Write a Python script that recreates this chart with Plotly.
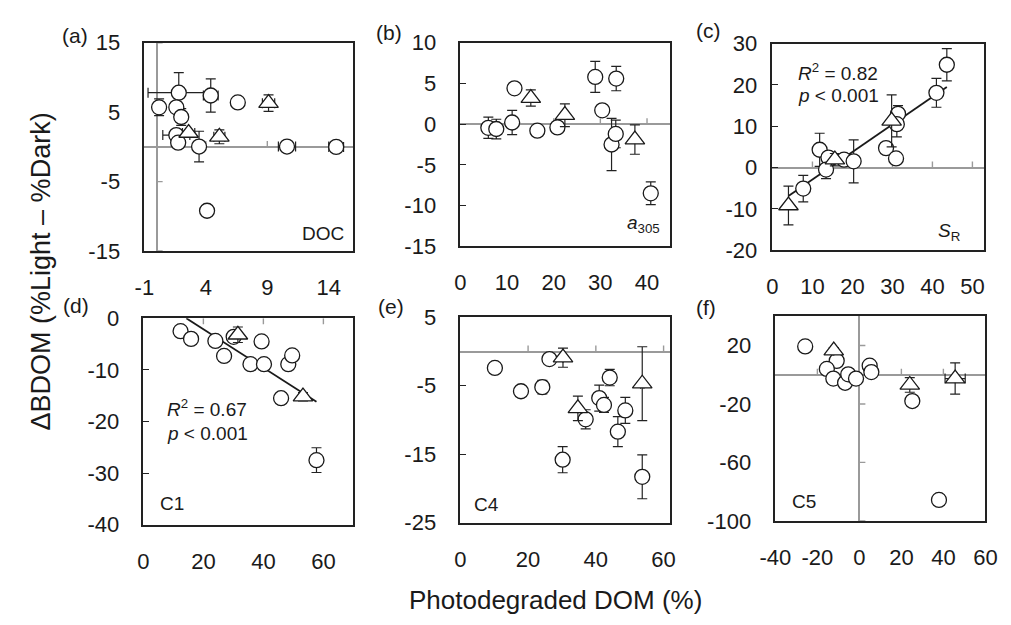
import plotly.graph_objects as go

W, H = 1011, 625
FONT = "Liberation Sans, Arial, sans-serif"
INK = "#1a1a1a"
FRAME = "#222222"
GRAY = "#9a9a9a"

# ---------------- data ----------------
# (a) DOC
a_cx = [0.2, 1.8, 4.4, 6.6, 1.6, 2.0, 1.6, 1.75, 3.45, 4.1, 10.6, 14.6]
a_cy = [5.7, 7.8, 7.4, 6.4, 5.7, 4.3, 1.7, 0.6, 0.05, -9.2, 0.05, 0.0]
a_cey = [1.2, 2.9, 2.4, 0, 0, 1.2, 0, 0, 2.2, 0, 0, 0]
a_cex = [0, 2.5, 0.6, 0, 0, 0, 1.1, 0, 0, 0.4, 0.7, 0.6]
a_tx = [2.6, 5.1, 9.1]
a_ty = [2.0, 1.45, 6.3]
a_tey = [0, 1.0, 1.2]
a_tex = [0.5, 0.45, 0.5]

# (b) a305
b_cx = [6.0, 7.7, 11.1, 11.6, 16.5, 20.8, 28.9, 30.4, 33.4, 32.4, 33.3, 40.8]
b_cy = [-0.45, -0.6, 0.2, 4.4, -0.8, -0.4, 5.8, 1.7, 5.6, -2.5, -1.2, -8.5]
b_cey = [1.3, 1.2, 1.5, 0, 0, 0, 1.9, 0, 1.5, 3.2, 1.7, 1.4]
b_tx = [15.1, 22.4, 37.4]
b_ty = [3.2, 1.1, -1.9]
b_tey = [1.0, 1.4, 1.8]

# (c) SR
c_cx = [43.6, 41.0, 31.4, 31.1, 28.4, 30.9, 11.8, 14.0, 13.4, 17.9, 20.3, 7.7]
c_cy = [24.9, 18.1, 13.0, 10.5, 4.7, 2.2, 4.3, 2.4, -0.5, 1.9, 1.5, -5.1]
c_cey = [3.9, 3.5, 2.0, 3.1, 0, 0, 4.0, 0, 2.2, 0, 5.2, 3.2]
c_tx = [4.0, 15.6, 29.8]
c_ty = [-9.2, 1.9, 11.3]
c_tey = [4.7, 1.5, 6.3]
c_fit_x = [4.0, 43.6]
c_fit_y = [-6.9, 19.5]

# (d) C1
d_cx = [12.4, 15.9, 24.0, 26.9, 30.1, 39.4, 35.7, 40.2, 48.3, 49.6, 45.9, 57.7]
d_cy = [-2.5, -4.0, -4.4, -7.3, -3.6, -4.5, -8.9, -8.9, -8.9, -7.2, -15.5, -27.5]
d_cey = [0, 0, 0, 0, 0, 0, 0, 0, 0, 0, 0, 2.4]
d_tx = [31.5, 53.2]
d_ty = [-3.2, -15.2]
d_tey = [1.5, 0.8]
d_fit_x = [14.3, 57.7]
d_fit_y = [0.0, -16.2]

# (e) C4
e_cx = [10.2, 17.9, 24.2, 26.3, 30.2, 37.0, 41.0, 42.4, 44.1, 46.5, 48.7, 53.7]
e_cy = [-2.4, -5.8, -5.2, -1.1, -15.8, -9.9, -6.8, -7.8, -3.8, -11.7, -8.6, -18.3]
e_cey = [0, 0, 1.0, 0.6, 1.9, 1.4, 1.9, 1.1, 1.2, 2.2, 1.9, 3.2]
e_tx = [30.3, 34.7, 53.7]
e_ty = [-0.9, -8.3, -4.7]
e_tey = [1.4, 1.8, 5.4]
e_tex = [0, 0, 0.5]

# (f) C5
f_cx = [-25.8, -10.8, -15.5, -12.4, -6.8, -5.3, -1.6, 4.9, 5.7, 25.2, 37.9]
f_cy = [19.4, 9.5, 4.0, -2.6, -5.5, 0.3, -2.6, 6.2, 1.8, -18.0, -85.7]
f_cey = [0, 0, 0, 0, 0, 0, 0, 0, 0, 0, 0]
f_tx = [-12.2, 24.0, 45.6]
f_ty = [16.5, -7.0, -2.6]
f_tey = [2.0, 5.0, 10.7]
f_tex = [0, 0, 4.8]

# axis ranges and tick values
a_xr, a_xt, a_yr, a_yt = [-1, 16], [-1, 4, 9, 14], [-15, 15], [-15, -5, 5, 15]
b_xr, b_xt, b_yr, b_yt = [0, 45], [0, 10, 20, 30, 40], [-15, 10], [-15, -10, -5, 0, 5, 10]
c_xr, c_xt, c_yr, c_yt = [0, 53], [0, 10, 20, 30, 40, 50], [-20, 30], [-20, -10, 0, 10, 20, 30]
d_xr, d_xt, d_yr, d_yt = [0, 70], [0, 20, 40, 60], [-40, 0], [-40, -30, -20, -10, 0]
e_xr, e_xt, e_yr, e_yt = [0, 62], [0, 20, 40, 60], [-25, 5], [-25, -15, -5, 5]
f_xr, f_xt, f_yr, f_yt = [-40, 60], [-40, -20, 0, 20, 40, 60], [-100, 40], [-100, -60, -20, 20]


def px(x):
    return x / W


def py(y):
    return 1 - y / H


# plot-area boxes in pixels: (left, right, top, bottom)
boxes = {
    "a": (132, 347, 32, 249),
    "b": (457, 673, 32, 244),
    "c": (778, 996, 33, 248),
    "d": (131, 347, 319, 534),
    "e": (457, 673, 318, 532),
    "f": (781, 997, 317, 530),
}

panels = [
    # key, cx, cy, cey, cex, tx, ty, tey, tex, xr, xt, yr, yt, y ticks on frame, fit
    ("a", a_cx, a_cy, a_cey, a_cex, a_tx, a_ty, a_tey, a_tex, a_xr, a_xt, a_yr, a_yt, False, None),
    ("b", b_cx, b_cy, b_cey, None, b_tx, b_ty, b_tey, None, b_xr, b_xt, b_yr, b_yt, True, None),
    ("c", c_cx, c_cy, c_cey, None, c_tx, c_ty, c_tey, None, c_xr, c_xt, c_yr, c_yt, True, (c_fit_x, c_fit_y)),
    ("d", d_cx, d_cy, d_cey, None, d_tx, d_ty, d_tey, None, d_xr, d_xt, d_yr, d_yt, True, (d_fit_x, d_fit_y)),
    ("e", e_cx, e_cy, e_cey, None, e_tx, e_ty, e_tey, e_tex, e_xr, e_xt, e_yr, e_yt, True, None),
    ("f", f_cx, f_cy, f_cey, None, f_tx, f_ty, f_tey, f_tex, f_xr, f_xt, f_yr, f_yt, False, None),
]

fig = go.Figure()
layout = {}
shapes = []


def err(vals):
    if vals is None:
        return None
    return dict(type="data", array=vals, visible=True, color=FRAME, thickness=1.2, width=5)


for i, (k, cx, cy, cey, cex, tx, ty, tey, tex, xr, xt, yr, yt, frame_ticks, fit) in enumerate(panels):
    n = "" if i == 0 else str(i + 1)
    xa, ya = "x" + n, "y" + n
    L, R, T, B = boxes[k]
    common = dict(
        showline=True, mirror=True, linecolor=FRAME, linewidth=1.6,
        showgrid=False, zeroline=True, zerolinecolor=GRAY, zerolinewidth=1.5,
        tickfont=dict(family=FONT, size=22, color=INK), fixedrange=True,
        tickmode="array",
    )
    layout["xaxis" + n] = dict(
        common, domain=[px(L), px(R)], range=xr, tickvals=xt,
        ticktext=[str(v) for v in xt], ticks="",
        anchor=ya, ticklabelstandoff=16,
    )
    layout["yaxis" + n] = dict(
        common, domain=[py(B), py(T)], range=yr, tickvals=yt,
        ticktext=[str(v) for v in yt],
        ticks="inside" if frame_ticks else "", ticklen=6, tickcolor=FRAME, tickwidth=1.4,
        anchor=xa, ticklabelstandoff=(9 if k == "c" else 18),
    )

    if fit is not None:
        fig.add_trace(go.Scatter(x=fit[0], y=fit[1], xaxis=xa, yaxis=ya, mode="lines",
                                 line=dict(color=INK, width=1.8), hoverinfo="skip"))
    fig.add_trace(go.Scatter(
        x=cx, y=cy, xaxis=xa, yaxis=ya, mode="markers",
        marker=dict(symbol="circle", size=15, color="white", line=dict(color=INK, width=1.3)),
        error_y=err(cey), error_x=err(cex),
    ))
    fig.add_trace(go.Scatter(
        x=tx, y=ty, xaxis=xa, yaxis=ya, mode="markers",
        marker=dict(symbol="triangle-up", size=17, color="white", line=dict(color=INK, width=1.3)),
        error_y=err(tey), error_x=err(tex),
    ))

    # tick marks drawn on the axes that cross at zero
    x_on_zero = [v for v in xt if xr[0] < v < xr[1] and v != 0]
    up = yr[1] > 0
    if yr[0] <= 0 <= yr[1]:
        for v in x_on_zero:
            shapes.append(dict(type="line", xref=xa, yref=ya, ysizemode="pixel", yanchor=0,
                               x0=v, x1=v, y0=0, y1=(6 if up else -6), layer="below",
                               line=dict(color=GRAY, width=1.4)))
    if xr[0] < 0 < xr[1]:
        for v in yt:
            if v != 0:
                shapes.append(dict(type="line", xref=xa, yref=ya, xsizemode="pixel", xanchor=0,
                                   y0=v, y1=v, x0=0, x1=6, layer="below",
                                   line=dict(color=GRAY, width=1.4)))

ann = []


def text(s, x, y, xanchor="center", size=20, **kw):
    ann.append(dict(text=s, x=px(x), y=py(y), xref="paper", yref="paper", showarrow=False,
                    xanchor=xanchor, yanchor="middle", font=dict(family=FONT, size=size, color=INK), **kw))


# panel letters
for lab, x, y in [("(a)", 61, 24), ("(b)", 384, 21), ("(c)", 712, 19),
                  ("(d)", 62, 306), ("(e)", 386, 307), ("(f)", 710, 308)]:
    text(lab, x, y, size=21)

# variable names inside panels
text("DOC", 339, 231, xanchor="right", size=19)
text("<i>a</i><sub>305</sub>", 664, 221, xanchor="right", size=19)
text("<i>S</i><sub>R</sub>", 973, 229, xanchor="right", size=19)
text("C1", 146, 512, xanchor="left", size=19)
text("C4", 469, 513, xanchor="left", size=19)
text("C5", 796, 510, xanchor="left", size=19)

# regression statistics
text("<i>R</i><sup>2</sup> = 0.82", 802, 63, xanchor="left", size=19)
text("<i>p</i> &lt; 0.001", 802, 87, xanchor="left", size=19)
text("<i>R</i><sup>2</sup> = 0.67", 153, 412, xanchor="left", size=19)
text("<i>p</i> &lt; 0.001", 153, 439, xanchor="left", size=19)

# axis titles
text("Photodegraded DOM (%)", 555, 612, size=26)
text("\u0394BDOM (%Light \u2013 %Dark)", 26, 270, size=27, textangle=-90)

fig.update_layout(
    width=W, height=H, margin=dict(l=0, r=0, t=0, b=0),
    paper_bgcolor="white", plot_bgcolor="white", showlegend=False,
    annotations=ann, shapes=shapes, **layout,
)

fig.write_html("out.html")
